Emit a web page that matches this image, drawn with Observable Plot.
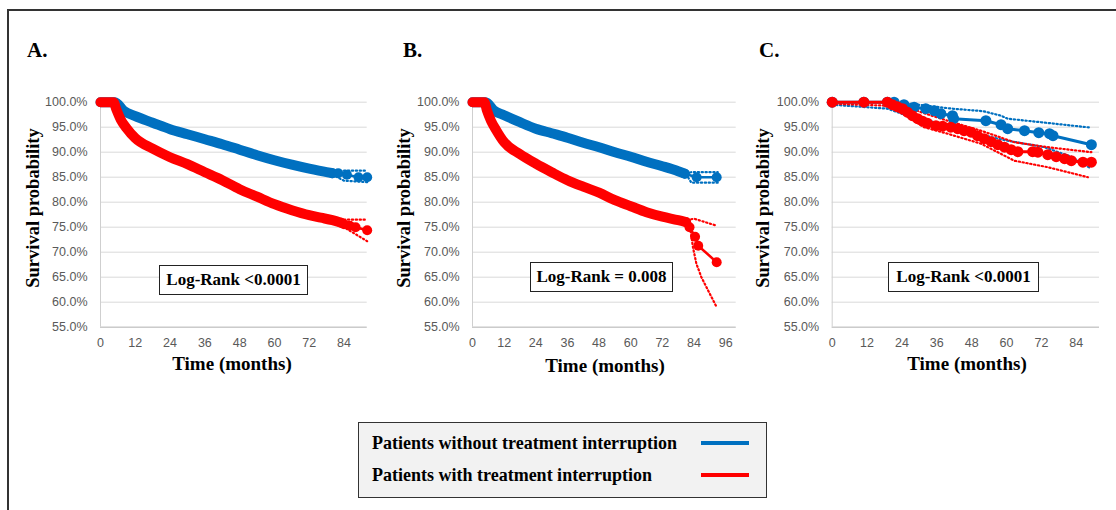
<!DOCTYPE html>
<html>
<head>
<meta charset="utf-8">
<script src="https://cdn.jsdelivr.net/npm/d3@7"></script>
<script src="https://cdn.jsdelivr.net/npm/@observablehq/plot@0.6"></script>
<style>
  html, body { margin: 0; padding: 0; background: #fff; }
  #page { position: relative; width: 1116px; height: 510px; overflow: hidden; background: #fff; }
  .abs { position: absolute; }
  .serif { font-family: "Liberation Serif", "Times New Roman", serif; font-weight: bold; color: #000; }
  .letter { font-size: 21px; line-height: 1; }
  .ylab { font-size: 18.5px; white-space: nowrap; transform: translate(-50%, -50%) rotate(-90deg); line-height: 1; }
  .xlab { font-size: 19px; white-space: nowrap; transform: translate(-50%, -50%); line-height: 1; }
  .lr { border: 1.5px solid #222; background: #fff; box-sizing: border-box; display: flex; align-items: center; justify-content: center; font-size: 17px; white-space: nowrap; }
  .legend { border: 1.5px solid #333; background: #f2f2f2; box-sizing: border-box; }
  .legtext { font-size: 18px; white-space: nowrap; transform: translateY(-50%); line-height: 1; }
  .swatch { height: 4px; width: 48px; transform: translateY(-50%); }
</style>
</head>
<body>
<div id="page">
  <div class="abs" style="left:7px;top:9px;width:1.5px;height:501px;background:#333"></div>
  <div class="abs" style="left:7px;top:9px;width:1109px;height:1.5px;background:#333"></div>

  <div class="abs serif letter" style="left:27px;top:40px">A.</div>
  <div class="abs serif letter" style="left:403px;top:40px">B.</div>
  <div class="abs serif letter" style="left:759px;top:40px">C.</div>

  <div id="pA" class="abs" style="left:0px;top:70px"></div>
  <div id="pB" class="abs" style="left:370px;top:70px"></div>
  <div id="pC" class="abs" style="left:740px;top:70px"></div>

  <div class="abs serif ylab" style="left:33px;top:207.5px">Survival probability</div>
  <div class="abs serif ylab" style="left:404px;top:207.5px">Survival probability</div>
  <div class="abs serif ylab" style="left:762.5px;top:207.5px">Survival probability</div>

  <div class="abs serif xlab" style="left:232px;top:363px">Time (months)</div>
  <div class="abs serif xlab" style="left:605px;top:365px">Time (months)</div>
  <div class="abs serif xlab" style="left:967px;top:363px">Time (months)</div>

  <div class="abs serif lr" style="left:159px;top:265px;width:149px;height:30px">Log-Rank &lt;0.0001</div>
  <div class="abs serif lr" style="left:530px;top:262px;width:143px;height:30px">Log-Rank = 0.008</div>
  <div class="abs serif lr" style="left:888px;top:262px;width:151px;height:30px">Log-Rank &lt;0.0001</div>

  <div class="abs legend" style="left:358px;top:422px;width:409px;height:76px"></div>
  <div class="abs serif legtext" style="left:372px;top:443px">Patients without treatment interruption</div>
  <div class="abs serif legtext" style="left:372px;top:475px">Patients with treatment interruption</div>
  <div class="abs swatch" style="left:701px;top:443px;background:#0070c0"></div>
  <div class="abs swatch" style="left:701px;top:475px;background:#ff0000"></div>
</div>
<script>
// ---------- axis ticks ----------
const yTicks = [55, 60, 65, 70, 75, 80, 85, 90, 95, 100];
const xTicksA = [0, 12, 24, 36, 48, 60, 72, 84];
const xTicksB = [0, 12, 24, 36, 48, 60, 72, 84, 96];
const xTicksC = [0, 12, 24, 36, 48, 60, 72, 84];

const BLUE = "#0070c0";
const RED = "#ff0000";

// ---------- Panel A ----------
const aBlueT = [0, 5, 8, 12, 18, 24, 30, 36, 42, 48, 54, 60, 66, 72, 78, 80];
const aBlueS = [100, 100, 98.3, 97.2, 95.9, 94.6, 93.6, 92.6, 91.6, 90.5, 89.4, 88.4, 87.5, 86.7, 86.0, 85.8];
const aBlueTailT = [80, 82, 85, 89, 92];
const aBlueTailS = [85.8, 85.8, 85.5, 85.0, 85.0];
const aBlueUpT = [80, 84, 92];
const aBlueUpS = [86.1, 86.3, 86.3];
const aBlueLoT = [80, 84, 92];
const aBlueLoS = [85.5, 84.3, 84.0];

const aRedT = [0, 4.5, 5.5, 7, 9, 12, 18, 24, 30, 36, 42, 48, 54, 60, 66, 72, 76, 80, 83];
const aRedS = [100, 100, 98.5, 96.5, 94.8, 92.8, 90.7, 89.0, 87.6, 86.0, 84.4, 82.6, 81.1, 79.6, 78.4, 77.4, 76.9, 76.4, 75.9];
const aRedTailT = [83, 84, 86, 88, 92];
const aRedTailS = [75.9, 75.6, 75.3, 75.0, 74.4];
const aRedUpT = [80, 84, 92];
const aRedUpS = [76.8, 76.5, 76.5];
const aRedLoT = [80, 84, 86, 92];
const aRedLoS = [76.2, 75.0, 74.3, 72.2];

// ---------- Panel B ----------
const bBlueT = [0, 5, 8, 12, 18, 24, 30, 36, 42, 48, 54, 60, 66, 72, 78, 80.5];
const bBlueS = [100, 100, 98.4, 97.4, 96.0, 94.7, 93.8, 92.9, 91.9, 91.0, 90.0, 89.1, 88.1, 87.2, 86.2, 85.7];
const bBlueTailT = [80.5, 85, 92.6];
const bBlueTailS = [85.7, 85.0, 85.0];
const bBlueUpT = [81, 83, 93];
const bBlueUpS = [85.8, 86.0, 86.0];
const bBlueLoT = [81, 83, 93];
const bBlueLoS = [85.6, 83.9, 83.9];

const bRedT = [0, 4.5, 5.5, 7, 9, 12, 18, 24, 30, 36, 42, 48, 54, 60, 66, 72, 78, 81];
const bRedS = [100, 100, 98.3, 96.3, 94.4, 92.0, 89.6, 87.7, 86.0, 84.4, 83.1, 81.9, 80.4, 79.2, 78.0, 77.1, 76.4, 76.0];
const bRedTailT = [81, 82.3, 84.4, 85.6, 92.6];
const bRedTailS = [76.0, 75.0, 73.1, 71.3, 68.0];
const bRedUpT = [80, 84, 92.6];
const bRedUpS = [76.3, 76.7, 75.3];
const bRedLoT = [80, 82.5, 83.6, 84.9, 86.8, 89.4, 92.6];
const bRedLoS = [75.8, 75.0, 71.0, 67.7, 65.0, 62.3, 59.0];

// ---------- Panel C ----------
const cBlueT = [0, 10.9, 19, 21.3, 24.7, 28.2, 32.2, 35.1, 37.4, 41.4, 41.8, 52.9, 58.1, 60.4, 66.2, 71.1, 74.8, 76, 89.2];
const cBlueS = [100, 100, 100, 100, 99.5, 99.0, 98.7, 98.3, 97.7, 97.3, 96.7, 96.3, 95.5, 94.7, 94.3, 93.9, 93.7, 93.3, 91.5];
const cBlueUpT = [0, 19, 25, 41.4, 52, 58.1, 60.4, 75, 89.2];
const cBlueUpS = [100, 100, 99.8, 98.7, 98.2, 97.3, 96.7, 95.8, 94.9];
const cBlueLoT = [0, 19, 25.9, 35, 41.4, 57, 60.4, 73, 82.3, 89.2];
const cBlueLoS = [99.5, 98.7, 97.3, 96.0, 95.0, 92.7, 92.3, 91.0, 89.1, 86.7];

const cRedT = [0, 10.9, 19, 20.7, 22.4, 24.2, 25.9, 27.6, 29.4, 31.1, 32.8, 35.7, 38, 40.8, 43.2, 45.4, 47.8, 50, 52.3, 54.7, 57, 59.3, 61.6, 63.9, 69, 70.8, 74.2, 77.1, 80, 82.3, 86.3, 89.2];
const cRedS = [100, 100, 100, 99.5, 99.1, 98.7, 98.0, 97.3, 96.7, 96.2, 95.8, 95.3, 95.2, 95.0, 94.7, 94.3, 94.0, 93.3, 92.7, 92.1, 91.5, 91.0, 90.5, 90.1, 90.1, 90.0, 89.5, 89.1, 88.7, 88.3, 88.0, 88.0];
const cRedUpT = [0, 19, 25.9, 31.6, 39.7, 51.2, 62.7, 74.2, 89.2];
const cRedUpS = [100, 100, 99.0, 97.8, 96.3, 94.3, 92.0, 91.0, 90.0];
const cRedLoT = [0, 19, 25.9, 31.6, 39.7, 51.2, 62.7, 74.2, 88];
const cRedLoS = [99.7, 99.3, 97.1, 95.0, 93.7, 91.7, 88.3, 87.0, 85.0];

// ---------- helpers ----------
const rows = (t, s) => t.map((m, i) => ({m, s: s[i]}));
const dotted = (t, s, color) => Plot.line(rows(t, s), {x: "m", y: "s", stroke: color, strokeWidth: 2.2, strokeDasharray: "1.3,2.6"});
const thick = (t, s, color) => Plot.line(rows(t, s), {x: "m", y: "s", stroke: color, strokeWidth: 10, strokeLinecap: "round", strokeLinejoin: "round", curve: "monotone-x"});
const thin = (t, s, color, w) => Plot.line(rows(t, s), {x: "m", y: "s", stroke: color, strokeWidth: w});
const dots = (t, s, color, r) => Plot.dot(rows(t, s), {x: "m", y: "s", fill: color, r});

function panel({width, ml, mr, xmax, xTicks, marks}) {
  return Plot.plot({
    width, height: 310,
    marginLeft: ml, marginRight: mr, marginTop: 31.7, marginBottom: 53.3,
    x: {domain: [0, xmax]},
    y: {domain: [55, 100]},
    style: {fontFamily: "'Liberation Sans', Arial, sans-serif", fontSize: "12.5px", color: "#595959", background: "transparent", overflow: "visible"},
    marks: [
      Plot.ruleY(yTicks, {stroke: "#d9d9d9", strokeWidth: 1}),
      Plot.ruleY([55], {stroke: "#bfbfbf", strokeWidth: 1}),
      Plot.ruleX([0], {stroke: "#cfcfcf", strokeWidth: 1}),
      Plot.axisY({ticks: yTicks, tickSize: 0, tickPadding: 13, tickFormat: d => d.toFixed(1) + "%", label: null}),
      Plot.axisX({ticks: xTicks, tickSize: 0, tickPadding: 11, tickFormat: d => String(d), label: null}),
      ...marks
    ]
  });
}

document.getElementById("pA").appendChild(panel({
  width: 375, ml: 100, mr: 8.3, xmax: 92, xTicks: xTicksA,
  marks: [
    dotted(aBlueUpT, aBlueUpS, BLUE), dotted(aBlueLoT, aBlueLoS, BLUE),
    dotted(aRedUpT, aRedUpS, RED), dotted(aRedLoT, aRedLoS, RED),
    thick(aBlueT, aBlueS, BLUE),
    thin(aBlueTailT, aBlueTailS, BLUE, 2.5), dots(aBlueTailT, aBlueTailS, BLUE, 5),
    thick(aRedT, aRedS, RED),
    thin(aRedTailT, aRedTailS, RED, 2.5), dots(aRedTailT, aRedTailS, RED, 5)
  ]
}));

document.getElementById("pB").appendChild(panel({
  width: 375, ml: 102, mr: 9.3, xmax: 100, xTicks: xTicksB,
  marks: [
    dotted(bBlueUpT, bBlueUpS, BLUE), dotted(bBlueLoT, bBlueLoS, BLUE),
    dotted(bRedUpT, bRedUpS, RED), dotted(bRedLoT, bRedLoS, RED),
    thick(bBlueT, bBlueS, BLUE),
    thin(bBlueTailT, bBlueTailS, BLUE, 2.5), dots(bBlueTailT, bBlueTailS, BLUE, 5),
    thick(bRedT, bRedS, RED),
    thin(bRedTailT, bRedTailS, RED, 2.5), dots(bRedTailT, bRedTailS, RED, 5)
  ]
}));

document.getElementById("pC").appendChild(panel({
  width: 376, ml: 91.7, mr: 17, xmax: 92, xTicks: xTicksC,
  marks: [
    dotted(cBlueUpT, cBlueUpS, BLUE), dotted(cBlueLoT, cBlueLoS, BLUE),
    dotted(cRedUpT, cRedUpS, RED), dotted(cRedLoT, cRedLoS, RED),
    thin(cBlueT, cBlueS, BLUE, 3), dots(cBlueT, cBlueS, BLUE, 5.5),
    thin(cRedT, cRedS, RED, 3), dots(cRedT, cRedS, RED, 5.5)
  ]
}));
</script>
</body>
</html>
